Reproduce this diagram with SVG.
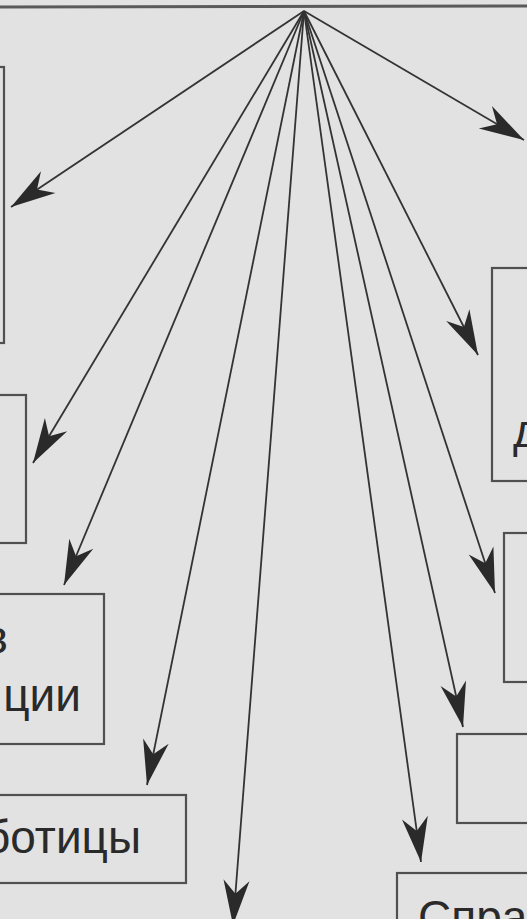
<svg xmlns="http://www.w3.org/2000/svg" width="527" height="919" viewBox="0 0 527 919">
<style>
.box{fill:none;stroke:#505050;stroke-width:2.2}
.ln{fill:none;stroke:#333;stroke-width:1.8;marker-end:url(#ah)}
.t{font-family:"Liberation Sans",Arial,sans-serif;font-size:46px;fill:#2a2a2a}
</style>
<defs>
<marker id="ah" markerUnits="userSpaceOnUse" markerWidth="50" markerHeight="30" viewBox="-46 -14 48 28" refX="0" refY="0" orient="auto">
<path d="M0,0 L-43,-12.5 L-30,0 L-43,12.5 Z" fill="#2a2a2a"/>
</marker>
</defs>
<rect x="0" y="0" width="527" height="919" fill="#e2e2e2"/>
<g id="top">
<line x1="0" y1="7" x2="527" y2="6" stroke="#5a5a5a" stroke-width="3"/>
</g>
<g id="n-left1"><rect class="box" x="-20" y="67" width="24" height="276"/></g>
<g id="n-left2"><rect class="box" x="-20" y="395" width="46" height="148"/></g>
<g id="n-left3"><rect class="box" x="-20" y="594" width="124" height="150"/>
<text class="t" x="8" y="653" text-anchor="end">в</text>
<text class="t" x="81" y="711" text-anchor="end">ции</text></g>
<g id="n-left4"><rect class="box" x="-20" y="795" width="206" height="88"/>
<text class="t" x="141" y="853" text-anchor="end">ботицы</text></g>
<g id="n-right1"><rect class="box" x="492" y="268" width="60" height="213"/>
<text class="t" x="513" y="447">д</text></g>
<g id="n-right2"><rect class="box" x="504" y="533" width="50" height="149"/></g>
<g id="n-right3"><rect class="box" x="457" y="734" width="90" height="89"/></g>
<g id="n-right4"><rect class="box" x="397" y="873" width="150" height="70"/>
<text class="t" x="418" y="933">Спра</text></g>
<g id="connectors">
<line class="ln" x1="304" y1="11" x2="11" y2="207"/>
<line class="ln" x1="304" y1="11" x2="524" y2="140"/>
<line class="ln" x1="304" y1="11" x2="33" y2="463"/>
<line class="ln" x1="304" y1="11" x2="64" y2="585"/>
<line class="ln" x1="304" y1="11" x2="147" y2="785"/>
<line class="ln" x1="304" y1="11" x2="233" y2="925"/>
<line class="ln" x1="304" y1="11" x2="421" y2="862"/>
<line class="ln" x1="304" y1="11" x2="463" y2="727"/>
<line class="ln" x1="304" y1="11" x2="495" y2="593"/>
<line class="ln" x1="304" y1="11" x2="478" y2="355"/>
</g>
</svg>
